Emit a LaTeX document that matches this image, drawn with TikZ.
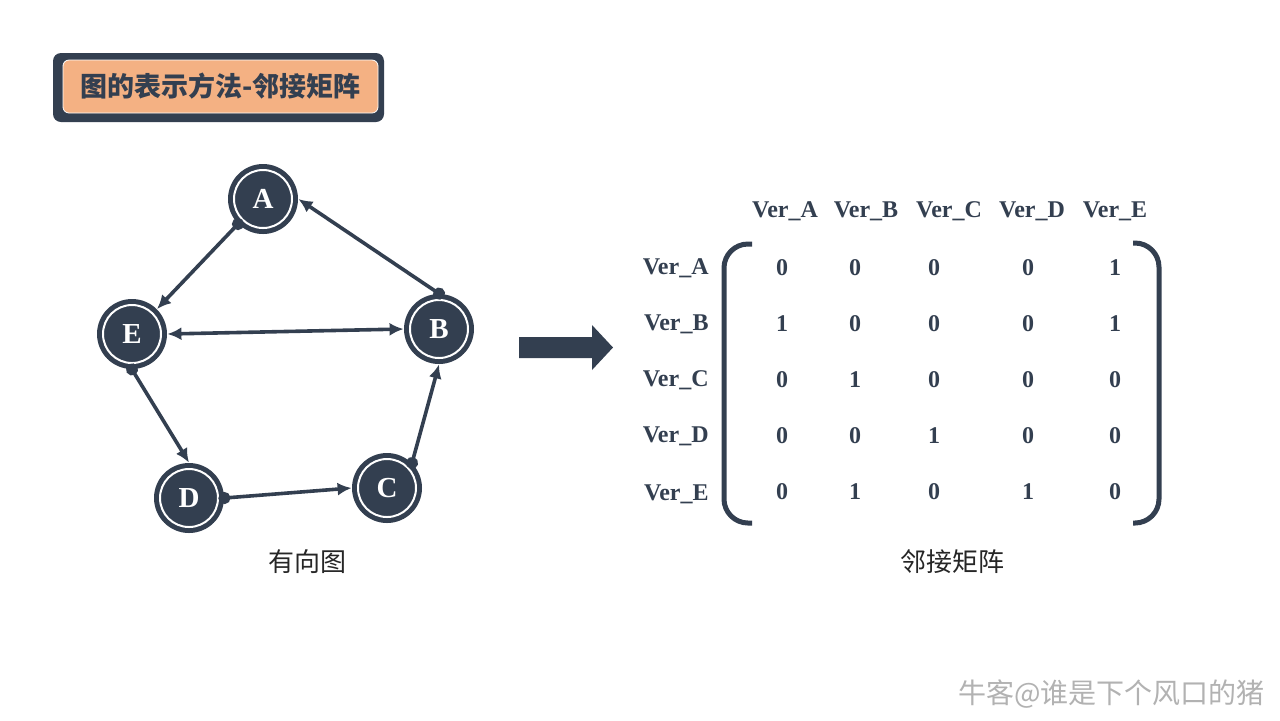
\documentclass[tikz,border=0pt]{standalone}
\usepackage{fontspec}
\setmainfont{Liberation Serif}
\newfontfamily\cjk{Noto Sans CJK SC}
\usetikzlibrary{arrows.meta}
\definecolor{navy}{HTML}{333F50}
\definecolor{peach}{HTML}{F4B183}

\begin{document}
\begin{tikzpicture}[x=0.5pt,y=-0.5pt,
  vert/.style={circle,fill=navy,minimum size=35pt,inner sep=0pt,text=white,
    font=\fontsize{14.5pt}{14.5pt}\selectfont\bfseries,
    path picture={\draw[white,line width=1pt] (path picture bounding box.center) circle (14.5pt);}},
  edge/.style={navy,line width=1.8pt,{Circle[length=6pt]}-{Latex[length=7pt,width=6.5pt]},shorten <=-3pt},
  twoway/.style={navy,line width=1.8pt,{Latex[length=7pt,width=6.5pt]}-{Latex[length=7pt,width=6.5pt]}},
  cell/.style={text=navy,font=\fontsize{12pt}{12pt}\selectfont\bfseries,inner sep=0pt},
  caption/.style={text=black!85,font=\cjk\fontsize{13pt}{13pt}\selectfont},
  bracket/.style={navy,line width=2.5pt,rounded corners=12pt}]
  \useasboundingbox[fill=white] (0,0) rectangle (1280,720);

  \node[fill=navy,rounded corners=4pt,minimum width=165.5pt,minimum height=34.5pt] (titleback) at (218.5,87.5) {};
  \node[fill=peach,draw=white,thin,rounded corners=3pt,minimum width=157.5pt,minimum height=26.5pt,
    text=navy,font=\cjk\fontsize{13.5pt}{13.5pt}\selectfont\bfseries] (title) at (220.5,86.5) {图的表示方法-邻接矩阵};

  \node[vert] (A) at (263,199) {A};
  \node[vert] (B) at (439,329) {B};
  \node[vert] (C) at (387,488) {C};
  \node[vert] (D) at (189,498) {D};
  \node[vert] (E) at (132,334) {E};
  \draw[edge] (A.south west) -- (E.north east);
  \draw[edge] (B.north) -- (A.east);
  \draw[twoway] (E.east) -- (B.west);
  \draw[edge] (E.south) -- (D.north);
  \draw[edge] (D.east) -- (C.west);
  \draw[edge] (C.north east) -- (B.south);
  \node[caption] (graphcap) at (307,562) {有向图};

  \fill[navy] (519,337) -- (592,337) -- (592,325) -- (613,347.5) -- (592,370) -- (592,358) -- (519,358) -- cycle;

  \foreach \l/\x in {A/785,B/866,C/949,D/1032,E/1115}
    \node[cell] (h\l) at (\x,211) {Ver\_\l};
  \foreach \l/\y in {A/268,B/324,C/380,D/436,E/494}
    \node[cell,anchor=east] (r\l) at (709,\y) {Ver\_\l};
  \foreach \row [count=\i] in {{0,0,0,0,1},{1,0,0,0,1},{0,1,0,0,0},{0,0,1,0,0},{0,1,0,1,0}}
    \foreach \v [count=\j] in \row {
      \pgfmathsetmacro\cx{{782,855,934,1028,1115}[\j-1]}
      \node[cell] (m\i\j) at (\cx,{212+56*\i}) {\v};
    }
  \draw[bracket] (752,244) -- (724,244) -- (724,523) -- (752,523);
  \draw[bracket] (1133,243) -- (1159,243) -- (1159,523) -- (1133,523);
  \node[caption] (matcap) at (952,562) {邻接矩阵};

  \node[anchor=east,text=black!30,font=\cjk\fontsize{14pt}{14pt}\selectfont] (mark) at (1272,694) {牛客@谁是下个风口的猪};
\end{tikzpicture}
\end{document}
